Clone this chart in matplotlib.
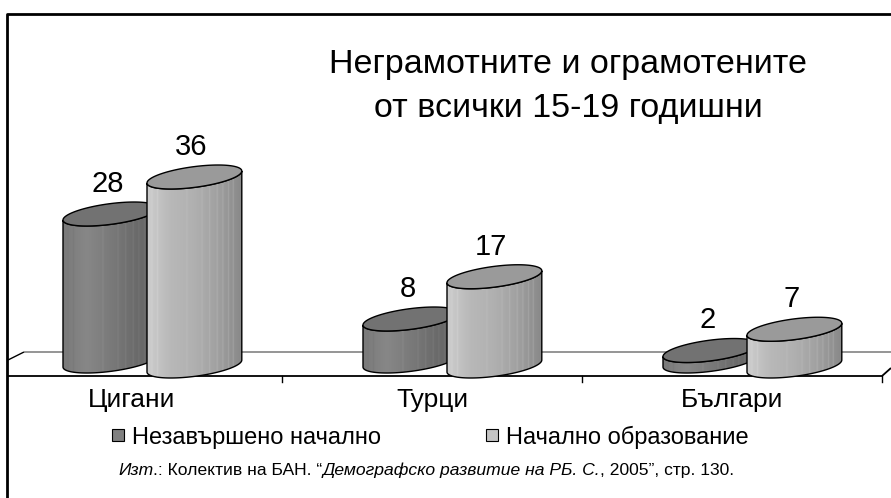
import numpy as np
import matplotlib
matplotlib.use('Agg')
import matplotlib.pyplot as plt
from matplotlib.patches import Polygon
from matplotlib.lines import Line2D
from matplotlib.colors import LinearSegmentedColormap

plt.rcParams['font.family'] = ['Liberation Sans', 'DejaVu Sans']

# data
categories = ['Цигани', 'Турци', 'Българи']
series_names = ['Незавършено начално', 'Начално образование']
incomplete = [28, 8, 2]
primary = [36, 17, 7]
title_lines = ['Неграмотните и ограмотените', 'от всички 15-19 годишни']
source_parts = [('Изт', 'italic'), ('.: Колектив на БАН. \u201c', 'normal'),
                ('Демографско развитие на РБ. С.', 'italic'),
                (', 2005\u201d, стр. 130.', 'normal')]

W, H = 891, 498
fig = plt.figure(figsize=(W / 100, H / 100), dpi=100)
ax = fig.add_axes([0, 0, 1, 1])
ax.axis('off')

# axes scale: 300 px per category, 5.25 px per unit
x0_px, base_px, px_unit = 132, 366, 5.25
xlim = (-x0_px / 300, (W - x0_px) / 300)
ylim = ((base_px - H) / px_unit, base_px / px_unit)


def px(xp, yp):
    return (xp - x0_px) / 300, (base_px - yp) / px_unit


# floor / axis lines
def pline(pts, **kw):
    xs, ys = zip(*[px(*p) for p in pts])
    ax.plot(xs, ys, solid_capstyle='butt', **kw)


pline([(24, 352), (W, 352)], color='#8c8c8c', lw=1.3, zorder=1)
pline([(8, 360), (24, 352)], color='black', lw=1.0, zorder=1)
pline([(8, 376), (882, 376), (W, 368)], color='black', lw=1.3, zorder=1)
for i in range(len(categories)):
    xb = i + 0.5
    ax.plot([xb, xb], [px(0, 376)[1], px(0, 382)[1]], color='black', lw=1.0, zorder=1)

a = 0.158      # half width (category units)
b = 1.98       # vertical semi-axis (value units)
h = 1.14       # tilt of the ellipse

dark_cmap = LinearSegmentedColormap.from_list('d', ['#7a7a7a', '#878787', '#7a7a7a', '#6c6c6c', '#626262'])
light_cmap = LinearSegmentedColormap.from_list('l', ['#cdcdcd', '#b8b8b8', '#b0b0b0', '#a0a0a0', '#888888'])


def texture(n=240):
    g = np.linspace(0, 1, n)
    s = np.zeros(n)
    for p in [0.05, 0.11, 0.42, 0.58, 0.66, 0.74, 0.8, 0.86, 0.91]:
        s += 0.2 * np.exp(-((g - p) / 0.006) ** 2)
    return np.clip(g - s, 0, 1)[None, :]


def cylinder(xc, y0, val, cmap, top_color, z):
    t = np.linspace(0, 2 * np.pi, 200)
    ex = xc + a * np.cos(t)
    lower = np.linspace(np.pi, 2 * np.pi, 100)
    lx = xc + a * np.cos(lower)
    ly = b * np.sin(lower) + h * np.cos(lower)
    top = y0 + val
    body = np.vstack([np.column_stack([lx, y0 + ly]),
                      np.column_stack([lx[::-1], top + ly[::-1]])])
    patch = Polygon(body, closed=True, facecolor='none', edgecolor='black', lw=1.0, zorder=z + 0.1)
    ax.add_patch(patch)
    im = ax.imshow(texture(), cmap=cmap, vmin=0, vmax=1, aspect='auto', zorder=z,
                   extent=[xc - a, xc + a, y0 - b - h, top + b + h], interpolation='bilinear')
    im.set_clip_path(patch)
    ey = top + b * np.sin(t) + h * np.cos(t)
    ax.add_patch(Polygon(np.column_stack([ex, ey]), closed=True, facecolor=top_color,
                         edgecolor='black', lw=1.0, zorder=z + 0.2))


for i in range(len(categories)):
    cylinder(i - 0.072, 0.95, incomplete[i], dark_cmap, '#727272', 2)
    ax.text(i - 0.082, 0.95 + incomplete[i] + 4.2, str(incomplete[i]), ha='center',
            va='baseline', fontsize=21, zorder=5)
for i in range(len(categories)):
    cylinder(i + 0.208, 0.0, primary[i], light_cmap, '#9a9a9a', 3)
    ax.text(i + 0.198, primary[i] + 4.2, str(primary[i]), ha='center',
            va='baseline', fontsize=21, zorder=5)

for i, c in enumerate(categories):
    ax.text(i, px(0, 400)[1], c, ha='center', va='center', fontsize=19)

ax.set_xlim(*xlim)
ax.set_ylim(*ylim)

# title
fig.text(568 / W, 1 - 73 / H, title_lines[0], ha='center', va='baseline', fontsize=24.5)
fig.text(568 / W, 1 - 117 / H, title_lines[1], ha='center', va='baseline', fontsize=24.5)

# legend
handles = [Line2D([], [], ls='none', marker='s', markersize=9, mfc='#808080', mec='black', mew=0.8),
           Line2D([], [], ls='none', marker='s', markersize=9, mfc='#c4c4c4', mec='black', mew=0.8)]
fig.legend(handles, series_names, loc='center', bbox_to_anchor=(430 / W, 1 - 437 / H),
           ncol=2, frameon=False, fontsize=17, handlelength=0.6, handletextpad=0.3,
           columnspacing=4.4)

# source line with italic parts
renderer = fig.canvas.get_renderer()
xp = 118
for txt, style in source_parts:
    t = fig.text(xp / W, 1 - 470 / H, txt, ha='left', va='center', fontsize=12.6, style=style)
    xp += t.get_window_extent(renderer).width

# frame
fig.add_artist(Line2D([7 / W, 7 / W, 1], [0, 1 - 14 / H, 1 - 14 / H], color='black', lw=2,
                      transform=fig.transFigure))

fig.savefig('out.png', dpi=100, facecolor='white')
